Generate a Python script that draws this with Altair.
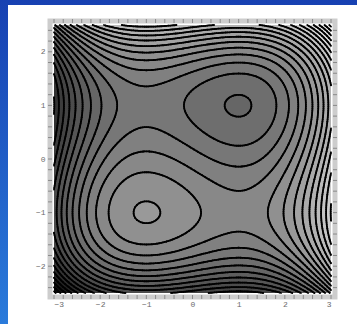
import numpy as np
import pandas as pd
import altair as alt
from numpy.polynomial import polynomial as P

# Plotted window
X_DOMAIN = [-3.0, 3.0]
Y_DOMAIN = [-2.5, 2.5]

# Surface z = p(x) + q(y); coefficients from the constant term upwards
X_COEFFS = [0.0, -3.0, 0.0, 1.0]
Y_COEFFS = [0.0, -6.0, 0.0, 2.0]

# Contour levels
LEVELS = [-33.35, -31.05, -28.75, -26.45, -24.15, -21.85, -19.55, -17.25,
          -14.95, -12.65, -10.35, -8.05, -5.75, -3.45, -1.15,
          1.15, 3.45, 5.75, 8.05, 10.35, 12.65, 14.95, 17.25, 19.55,
          21.85, 24.15, 26.45, 28.75, 31.05, 33.35]

X_TICKS = [-3, -2, -1, 0, 1, 2, 3]
Y_TICKS = [-2, -1, 0, 1, 2]

W, H = 277, 268
PAD_L, PAD_T = 54, 25
TOTAL_W, TOTAL_H = 357, 324

lv = np.array(LEVELS)


def surface(x, y):
    return P.polyval(x, X_COEFFS) + P.polyval(y, Y_COEFFS)


def gray_hex(band):
    g = int(round(255 * band / len(LEVELS)))
    return "#%02x%02x%02x" % (g, g, g)


# ---- shaded bands: one row of pixel height, split into runs of equal band
ncol = 1200
xs_f = np.linspace(X_DOMAIN[0], X_DOMAIN[1], ncol)
dy = (Y_DOMAIN[1] - Y_DOMAIN[0]) / H
fill_rows = []
for r in range(H):
    ytop = Y_DOMAIN[1] - r * dy
    yc = ytop - dy / 2
    band = np.searchsorted(lv, surface(xs_f, yc))
    change = np.nonzero(np.diff(band))[0]
    starts = np.concatenate([[0], change + 1])
    ends = np.concatenate([change, [ncol - 1]])
    for s0, e0 in zip(starts, ends):
        x0 = X_DOMAIN[0] if s0 == 0 else (xs_f[s0 - 1] + xs_f[s0]) / 2
        x1 = X_DOMAIN[1] if e0 == ncol - 1 else min(X_DOMAIN[1], (xs_f[e0] + xs_f[e0 + 1]) / 2 + 0.004)
        fill_rows.append({
            "x": x0, "x2": x1,
            "y": ytop, "y2": max(Y_DOMAIN[0], ytop - 1.6 * dy),
            "g": gray_hex(int(band[s0])),
        })
fill_df = pd.DataFrame(fill_rows)


# ---- contour lines by marching squares
def contour_segments(xs, ys, F, level):
    s = F > level
    a, b, c, d = s[:-1, :-1], s[:-1, 1:], s[1:, 1:], s[1:, :-1]
    Fa, Fb, Fc, Fd = F[:-1, :-1], F[:-1, 1:], F[1:, 1:], F[1:, :-1]
    X0 = np.broadcast_to(xs[None, :-1], a.shape)
    X1 = np.broadcast_to(xs[None, 1:], a.shape)
    Y0 = np.broadcast_to(ys[:-1, None], a.shape)
    Y1 = np.broadcast_to(ys[1:, None], a.shape)
    with np.errstate(divide="ignore", invalid="ignore"):
        tb = (level - Fa) / (Fb - Fa)
        tr = (level - Fb) / (Fc - Fb)
        tt = (level - Fd) / (Fc - Fd)
        tl = (level - Fa) / (Fd - Fa)
    pts = {
        "b": (X0 + tb * (X1 - X0), Y0),
        "r": (X1, Y0 + tr * (Y1 - Y0)),
        "t": (X0 + tt * (X1 - X0), Y1),
        "l": (X0, Y0 + tl * (Y1 - Y0)),
    }
    eb, er, et, el = a != b, b != c, d != c, a != d
    cnt = eb.astype(int) + er + et + el
    two, four = cnt == 2, cnt == 4
    cen = ((Fa + Fb + Fc + Fd) / 4 > level) == a
    pairs = [
        ("b", "r", (two & eb & er) | (four & cen)),
        ("t", "l", (two & et & el) | (four & cen)),
        ("l", "b", (two & el & eb) | (four & ~cen)),
        ("r", "t", (two & er & et) | (four & ~cen)),
        ("b", "t", two & eb & et),
        ("r", "l", two & er & el),
    ]
    out = []
    for p, q, m in pairs:
        if m.any():
            out.append(np.column_stack([pts[p][0][m], pts[p][1][m], pts[q][0][m], pts[q][1][m]]))
    return out


xs = np.linspace(X_DOMAIN[0], X_DOMAIN[1], 151)
ys = np.linspace(Y_DOMAIN[0], Y_DOMAIN[1], 126)
F = surface(xs[None, :], ys[:, None])
segs = []
for L in LEVELS:
    segs.extend(contour_segments(xs, ys, F, L))
seg_arr = np.vstack(segs)
seg_df = pd.DataFrame(seg_arr, columns=["x", "y", "x2", "y2"])

# ---- frame ticks
minor_x = [round(v, 1) for v in np.arange(-3.0, 3.01, 0.2)]
minor_y = [round(v, 1) for v in np.arange(-2.4, 2.41, 0.2)]

xscale = alt.Scale(domain=X_DOMAIN, nice=False, zero=False)
yscale = alt.Scale(domain=Y_DOMAIN, nice=False, zero=False)
xaxis = alt.Axis(values=X_TICKS, format="d", title=None, domain=False, ticks=False,
                 grid=False, labelFontSize=8, labelColor="#6c6c6c",
                 labelFont="Liberation Mono", labelPadding=7, zindex=2)
yaxis = alt.Axis(values=Y_TICKS, format="d", title=None, domain=False, ticks=False,
                 grid=False, labelFontSize=8, labelColor="#6c6c6c",
                 labelFont="Liberation Mono", labelPadding=9, zindex=2)

one = pd.DataFrame({"k": [0]})

backdrop = alt.Chart(one).mark_rect(
    fill=alt.LinearGradient(
        gradient="linear",
        stops=[alt.GradientStop(color="#1741b2", offset=0),
               alt.GradientStop(color="#2a7bdb", offset=1)],
        x1=0, x2=0, y1=0, y2=1),
).encode(x=alt.value(-PAD_L), x2=alt.value(TOTAL_W - PAD_L),
         y=alt.value(-PAD_T), y2=alt.value(TOTAL_H - PAD_T))

panel = alt.Chart(one).mark_rect(fill="white").encode(
    x=alt.value(8 - PAD_L), x2=alt.value(TOTAL_W - PAD_L),
    y=alt.value(5 - PAD_T), y2=alt.value(TOTAL_H - PAD_T))

frame = alt.Chart(one).mark_rect(fill="white", fillOpacity=0, stroke="#cdcdcd", strokeWidth=5).encode(
    x=alt.value(-4), x2=alt.value(W + 4), y=alt.value(-4), y2=alt.value(H + 4))

fill = alt.Chart(fill_df).mark_rect(strokeWidth=0).encode(
    x=alt.X("x:Q", scale=xscale, axis=xaxis),
    x2="x2:Q",
    y=alt.Y("y:Q", scale=yscale, axis=yaxis),
    y2="y2:Q",
    fill=alt.Fill("g:N", scale=None),
)

lines = alt.Chart(seg_df).mark_rule(color="black", strokeWidth=1.8, strokeCap="round").encode(
    x=alt.X("x:Q", scale=xscale, axis=xaxis),
    y=alt.Y("y:Q", scale=yscale, axis=yaxis),
    x2="x2:Q", y2="y2:Q",
)

tick_color = "#8a8a8a"
bottom_ticks = alt.Chart(pd.DataFrame({"x": minor_x})).mark_rule(color=tick_color, strokeWidth=1).encode(
    x=alt.X("x:Q", scale=xscale, axis=xaxis), y=alt.value(H + 2), y2=alt.value(H + 6))
top_ticks = alt.Chart(pd.DataFrame({"x": minor_x})).mark_rule(color=tick_color, strokeWidth=1).encode(
    x=alt.X("x:Q", scale=xscale, axis=xaxis), y=alt.value(-6), y2=alt.value(-2))
left_ticks = alt.Chart(pd.DataFrame({"y": minor_y})).mark_rule(color=tick_color, strokeWidth=1).encode(
    y=alt.Y("y:Q", scale=yscale, axis=yaxis), x=alt.value(-6), x2=alt.value(-2))
right_ticks = alt.Chart(pd.DataFrame({"y": minor_y})).mark_rule(color=tick_color, strokeWidth=1).encode(
    y=alt.Y("y:Q", scale=yscale, axis=yaxis), x=alt.value(W + 2), x2=alt.value(W + 6))

chart = alt.layer(
    backdrop, panel, frame, fill, lines, bottom_ticks, top_ticks, left_ticks, right_ticks
).properties(
    width=W, height=H,
    autosize=alt.AutoSizeParams(type="none"),
    padding={"left": PAD_L, "top": PAD_T, "right": TOTAL_W - PAD_L - W, "bottom": TOTAL_H - PAD_T - H},
    background="#1d4fbf",
).configure_view(stroke=None)

chart.save("out.html", embed_options={"renderer": "svg", "actions": False})
